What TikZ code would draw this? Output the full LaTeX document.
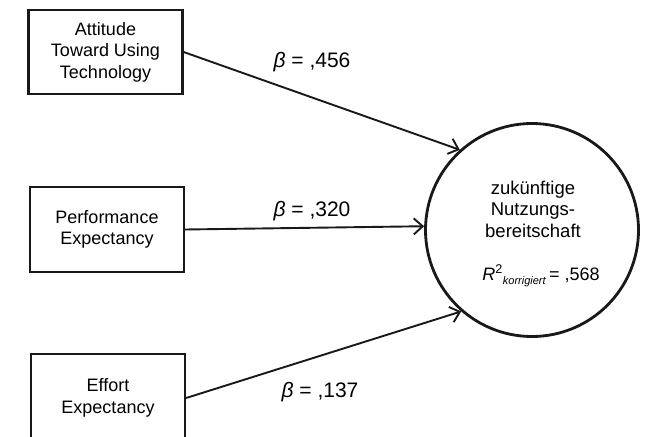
\documentclass[tikz,border=0pt]{standalone}
\usepackage{fontspec}
\setmainfont{Liberation Sans}
\usetikzlibrary{arrows.meta}
\begin{document}
\begin{tikzpicture}[x=1pt,y=-1pt,
  box/.style={draw=black!90,line width=2.2pt,minimum width=154pt,inner sep=0pt,align=center,font=\fontsize{18}{21.5}\selectfont},
  conn/.style={line width=1.9pt,black!90,-{Straight Barb[length=9pt,width=16pt,line width=1.9pt]}},
  beta/.style={font=\fontsize{21}{24}\selectfont,inner sep=0pt},
  ctext/.style={align=center,font=\fontsize{18.5}{21.5}\selectfont,inner sep=0pt}]
\useasboundingbox[fill=white] (0,0) rectangle (652,436);
\node[box,minimum height=84pt] (att) at (105.5,52) {Attitude\\Toward Using\\Technology};
\node[box,minimum height=85pt] (perf) at (107,229.5) {Performance\\Expectancy};
\node[box,minimum height=88pt] (eff) at (108,398) {Effort\\Expectancy};
\node[draw=black!90,line width=2.8pt,circle,minimum size=213pt,inner sep=0pt] (circ) at (532,230) {};
\node[ctext] (ct) at (533,209) {zukünftige\\Nutzungs-\\bereitschaft};
\node[ctext,font=\fontsize{18}{20}\selectfont] (r2) at (541,276) {\textit{R}\textsuperscript{2}\raisebox{-0.45ex}{\fontsize{11}{12}\selectfont\textit{korrigiert}}\,= ,568};
\draw[conn] (att.east) -- (circ.132);
\draw[conn] (perf.east) -- (circ.178);
\draw[conn] (eff.east) -- (circ.-131);
\node[beta] (b1) at (312,62) {\textit{β} = ,456};
\node[beta] (b2) at (312,211) {\textit{β} = ,320};
\node[beta] (b3) at (320,392) {\textit{β} = ,137};
\end{tikzpicture}
\end{document}
